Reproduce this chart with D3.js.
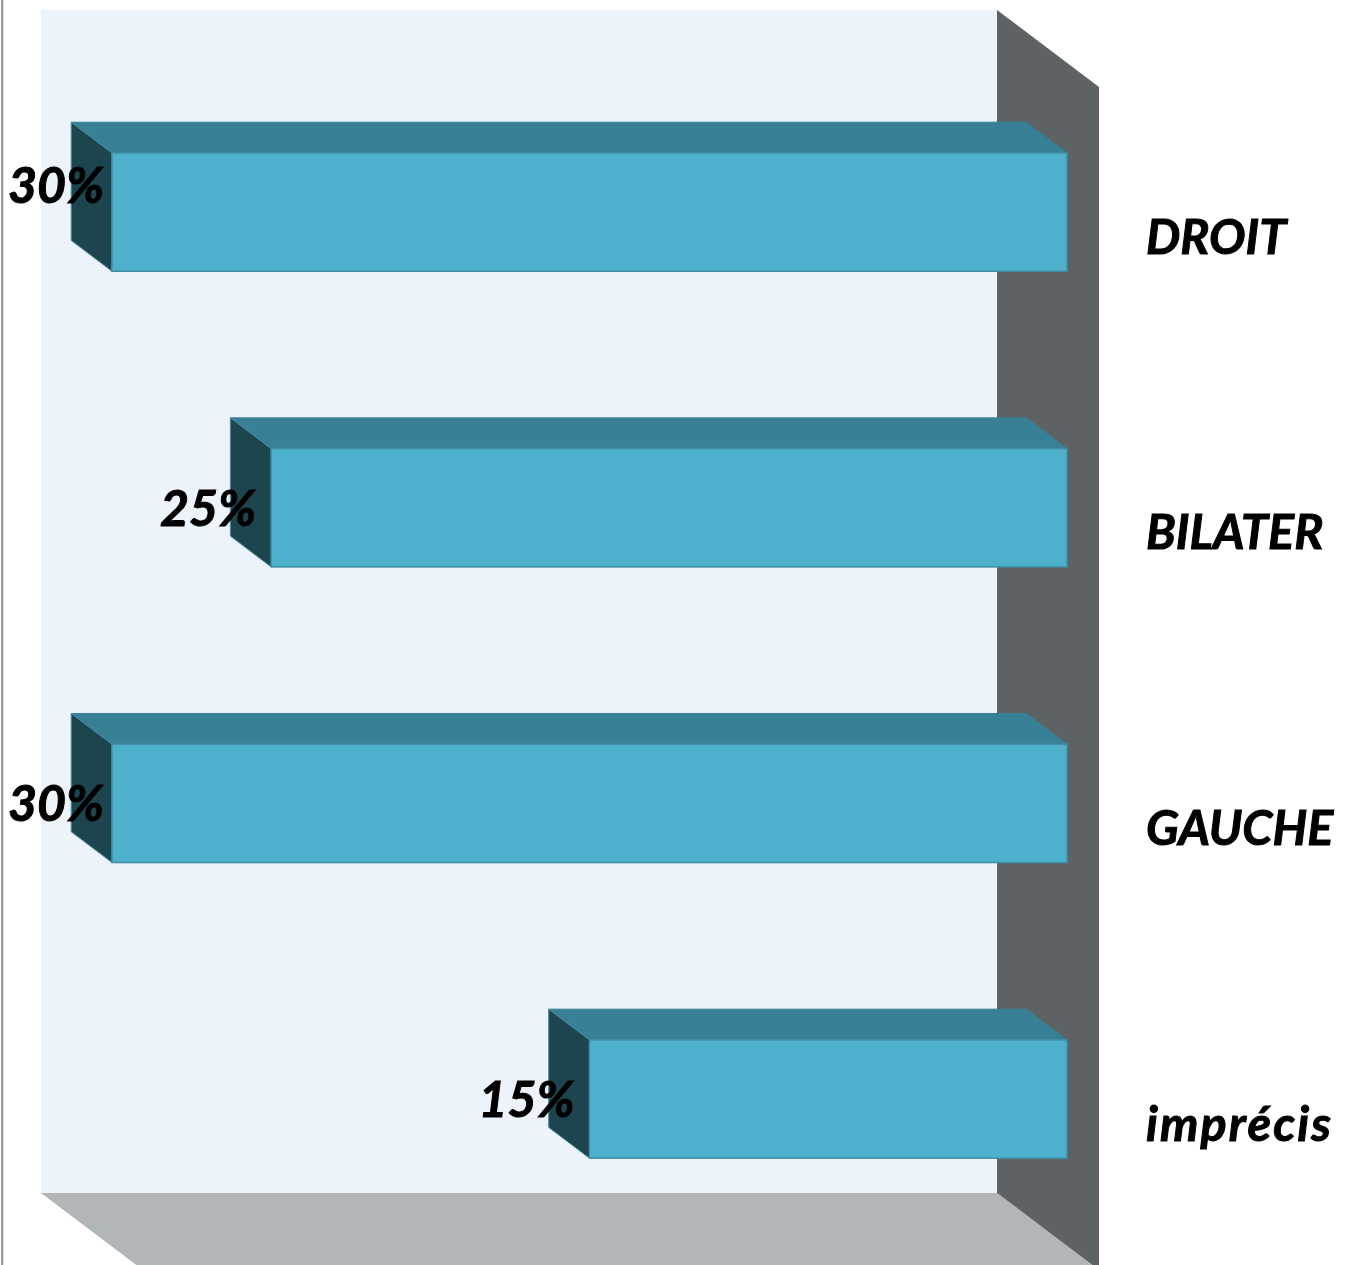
<!DOCTYPE html>
<html>
<head>
<meta charset="utf-8">
<script src="https://cdn.jsdelivr.net/npm/d3@7"></script>
<style>
html,body{margin:0;padding:0;background:#fff;overflow:hidden}
svg{display:block}
text{font-family:Lato,"Open Sans",sans-serif;font-weight:700;font-style:italic;fill:#000;stroke:#000;stroke-width:1}
</style>
</head>
<body>
<svg id="chart" width="1350" height="1265"></svg>
<script>
const categories = ["DROIT", "BILATER", "GAUCHE", "imprécis"];
const values = [30, 25, 30, 15];
const valueLabels = ["30%", "25%", "30%", "15%"];

const W = 1350, H = 1265;
const wall = {x0: 41, x1: 997, y0: 10, y1: 1193};
const depth = {dx: 102, dy: 77};
const barDepth = {near: 0.70, far: 0.30};

const svg = d3.select("#chart");
const defs = svg.append("defs");
defs.append("filter").attr("id", "soft")
  .attr("x", "-2%").attr("y", "-2%").attr("width", "104%").attr("height", "104%")
  .append("feGaussianBlur").attr("stdDeviation", 0.7);
defs.append("filter").attr("id", "softText")
  .attr("x", "-2%").attr("y", "-2%").attr("width", "104%").attr("height", "104%")
  .append("feGaussianBlur").attr("stdDeviation", 0.45);

// Value runs right to left, from the right edge of the bars
const x = d3.scaleLinear().domain([0, 30]).range([1067, 112]);
const y = d3.scaleBand().domain(categories)
  .range([64.3, 1246.9]).paddingInner(0.6).paddingOuter(0.3);

const line = pts => "M" + pts.map(p => p.join(",")).join("L") + "Z";
const g = svg.append("g").attr("filter", "url(#soft)");

// frame line at far left
g.append("rect").attr("x", 1).attr("y", -5).attr("width", 2.4).attr("height", H + 10).attr("fill", "#9c9c9c");

// back wall
g.append("rect").attr("x", wall.x0).attr("y", wall.y0)
  .attr("width", wall.x1 - wall.x0).attr("height", wall.y1 - wall.y0).attr("fill", "#ecf3fa");
// floor
g.append("path").attr("fill", "#b1b6b9").attr("d", line([
  [wall.x0, wall.y1], [wall.x1, wall.y1],
  [wall.x1 + depth.dx, wall.y1 + depth.dy], [wall.x0 + depth.dx, wall.y1 + depth.dy]
]));
// side wall
g.append("path").attr("fill", "#5d6265").attr("d", line([
  [wall.x1, wall.y0], [wall.x1 + depth.dx, wall.y0 + depth.dy],
  [wall.x1 + depth.dx, wall.y1 + depth.dy], [wall.x1, wall.y1]
]));

// bars
const dx = depth.dx * (barDepth.near - barDepth.far);
const dy = depth.dy * (barDepth.near - barDepth.far);
const bars = g.selectAll("g.bar").data(categories.map((c, i) => ({c, v: values[i]})))
  .join("g").attr("class", "bar");

bars.append("path").attr("fill", "#398096").attr("stroke", "#398096").attr("stroke-width", 1)
  .attr("d", d => {
    const l = x(d.v), r = x(0), t = y(d.c);
    return line([[l - dx, t - dy], [r - dx, t - dy], [r, t], [l, t]]);
  });
bars.append("path").attr("fill", "#1f454f").attr("stroke", "#4a8a9c").attr("stroke-width", 1)
  .attr("d", d => {
    const l = x(d.v), t = y(d.c), b = t + y.bandwidth();
    return line([[l - dx, t - dy], [l, t], [l, b], [l - dx, b - dy]]);
  });
bars.append("rect").attr("fill", "#4db0cc").attr("stroke", "#3f8fa6").attr("stroke-width", 1.5)
  .attr("x", d => x(d.v)).attr("y", d => y(d.c))
  .attr("width", d => x(0) - x(d.v)).attr("height", y.bandwidth());

// text
const labelNudge = [-26, 1, 1, 1];
const labels = svg.append("g").attr("filter", "url(#softText)");
labels.selectAll("text.val").data(values).join("text").attr("class", "val")
  .attr("font-size", 50).attr("text-anchor", "start")
  .text((d, i) => valueLabels[i])
  .each(function (d, i) {
    const w = this.getComputedTextLength();
    const left = Math.max(8, x(d) - 15 - w);
    d3.select(this).attr("x", left)
      .attr("y", y(categories[i]) + y.bandwidth() / 2 + 17 + labelNudge[i]);
  });

const axis = d3.axisRight(y).tickSize(0).tickPadding(0);
const ag = svg.append("g").attr("transform", "translate(1146,26)").call(axis);
ag.select(".domain").remove();
ag.attr("font-family", null).attr("font-size", null).attr("filter", "url(#softText)");
ag.selectAll("text").attr("font-size", 48.5)
  .style("font-family", 'Lato,"Open Sans",sans-serif')
  .filter(d => d === "imprécis")
  .attr("textLength", 185).attr("lengthAdjust", "spacing");
</script>
</body>
</html>
